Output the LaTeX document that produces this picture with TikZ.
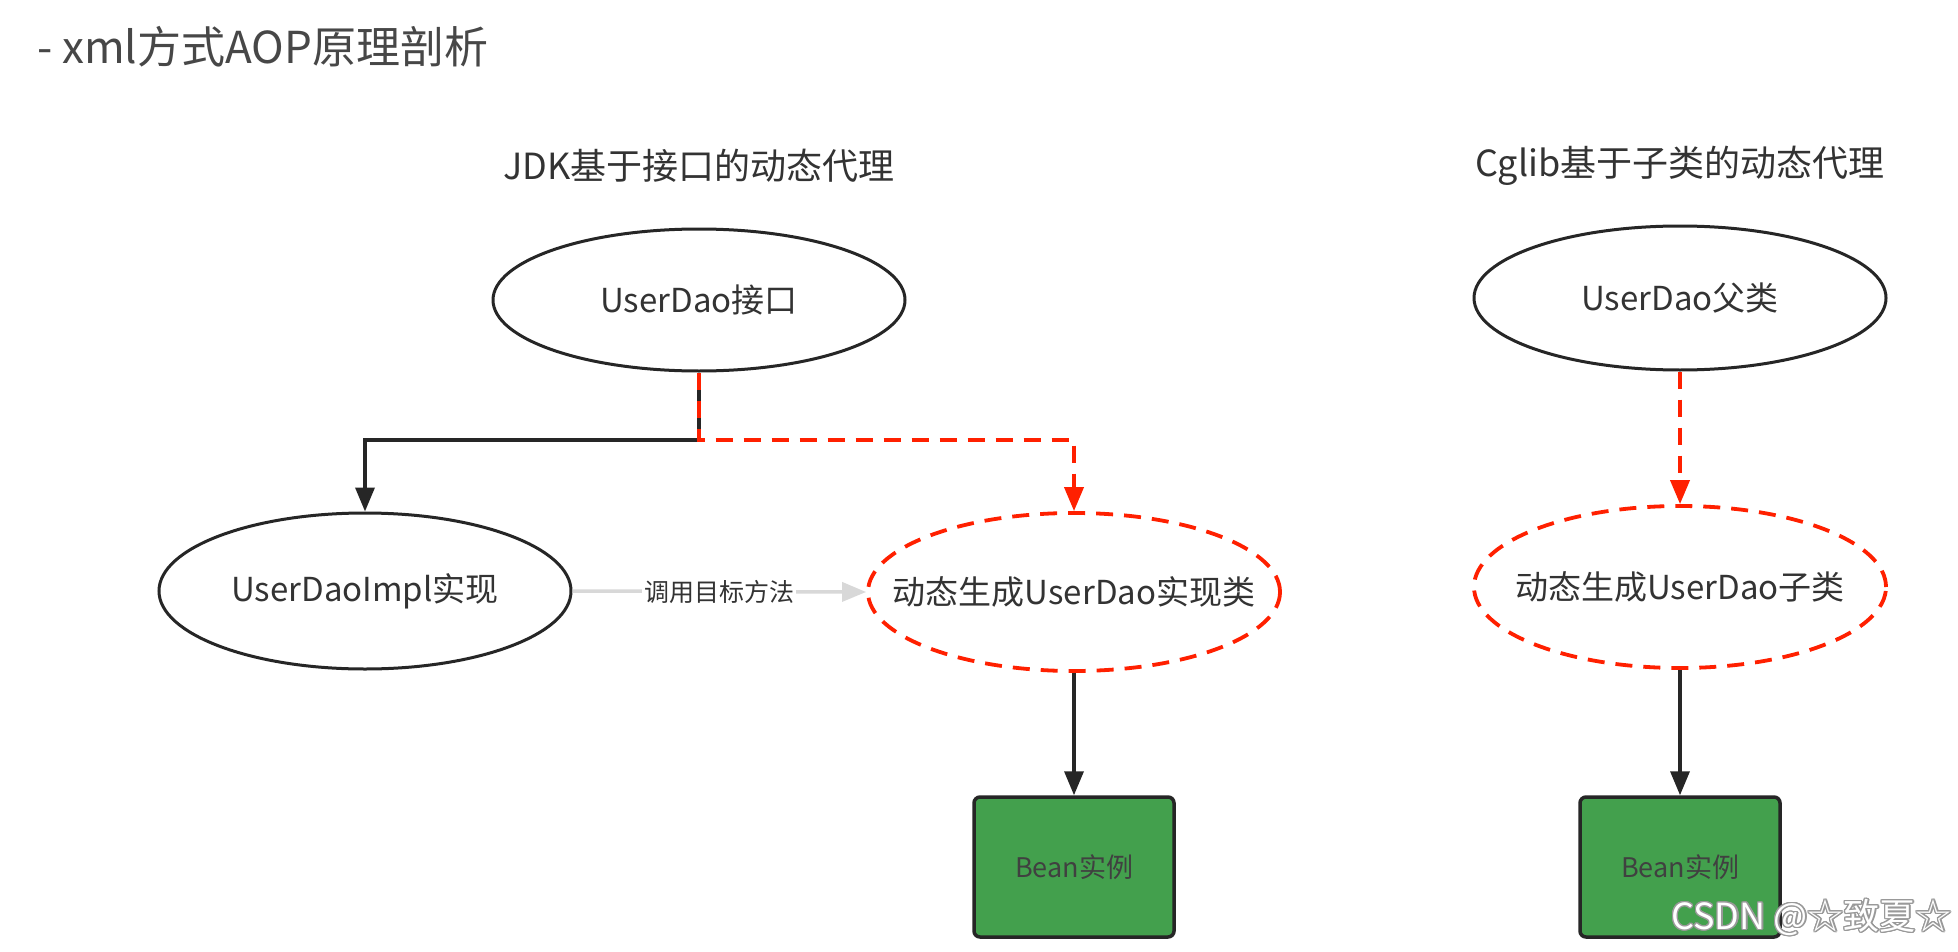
\documentclass[tikz,border=0pt]{standalone}
\usepackage{fontspec}
\setmainfont{Noto Sans CJK SC}
\usepackage{contour}
\contourlength{1.3pt}
\usetikzlibrary{shapes.geometric,arrows.meta}
\definecolor{txt}{HTML}{333333}
\definecolor{redd}{HTML}{FF2000}
\definecolor{grn}{HTML}{43A04D}
\definecolor{ln}{HTML}{262626}
\definecolor{lgray}{HTML}{D8D8D8}
\newcommand{\fixw}[1]{\makebox[0pt][c]{#1}}
\begin{document}
\begin{tikzpicture}[x=1pt,y=-1pt,
  ell/.style={ellipse, draw=ln, line width=3pt, minimum width=412pt, inner sep=0pt, text=txt, font=\fontsize{33}{40}\selectfont},
  rell/.style={ell, draw=redd, line width=3.8pt, dash pattern=on 17pt off 11pt},
  bean/.style={draw=ln, fill=grn, line width=3.5pt, rounded corners=6pt, minimum width=200pt, minimum height=140pt, inner sep=0pt, font=\fontsize{27}{32}\selectfont, text=black!75},
  conn/.style={draw=ln, line width=3.5pt, -{Triangle[length=24pt,width=19pt]}},
  rconn/.style={draw=redd, line width=3.8pt, dash pattern=on 17pt off 11pt, -{Triangle[length=24pt,width=19pt]}},
  gconn/.style={draw=lgray, line width=3.5pt, -{Triangle[length=24pt,width=19pt]}},
  head/.style={text=txt, font=\fontsize{36}{42}\selectfont, inner sep=0pt}
]
\useasboundingbox (0,0) rectangle (1958,952);
\fill[white] (0,0) rectangle (1958,952);

\node[anchor=west, text=txt!90, font=\fontsize{44}{50}\selectfont, inner sep=0pt] (title) at (37,47) {- xml方式AOP原理剖析};

\node[head] (jdk) at (699,166) {JDK基于接口的动态代理};
\node[head] (cg) at (1680,166) {Cglib基于子类的动态代理};

\node[ell, minimum height=142pt] (A) at (699,300) {UserDao接口};
\node[ell, minimum height=156pt] (B) at (365,591) {UserDaoImpl实现};
\node[rell, minimum height=158pt] (C) at (1074,592) {\fixw{动态生成UserDao实现类}};
\node[bean] (D) at (1074,867) {Bean实例};

\node[ell, minimum height=144pt] (E) at (1680,298) {UserDao父类};
\node[rell, minimum height=162pt] (F) at (1680,587) {\fixw{动态生成UserDao子类}};
\node[bean] (G) at (1680,867) {Bean实例};

\coordinate (j) at (699,440);
\draw[conn] (A.south) -- (j) -| (B.north);
\draw[rconn] (A.south) -- (j) -| (C.north);
\draw[gconn] (B.east) -- node[fill=white, text=txt, font=\fontsize{25}{30}\selectfont, inner sep=2pt] (lbl) {调用目标方法} (C.west);
\draw[conn] (C.south) -- (D.north);
\draw[rconn] (E.south) -- (F.north);
\draw[conn] (F.south) -- (G.north);

\node[anchor=east, font=\fontsize{36}{42}\selectfont, inner sep=0pt] (wm) at (1952,918) {\contour{gray!80}{\textcolor{white}{CSDN @☆致夏☆}}};
\end{tikzpicture}
\end{document}
